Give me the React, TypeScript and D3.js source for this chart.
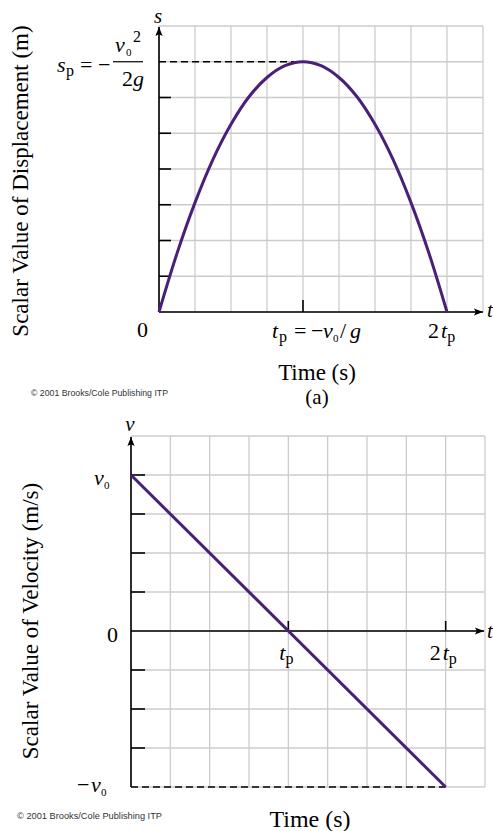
import React from "react";
import * as d3 from "d3";

// grid units: 9 columns x 8 rows (top), 9 x 9 (bottom)
const timeSteps = [0, 0.5, 1, 1.5, 2, 2.5, 3, 3.5, 4, 4.5, 5, 5.5, 6, 6.5, 7, 7.5, 8];
const displacement = [0, 1.64, 3.06, 4.27, 5.25, 6.02, 6.56, 6.89, 7, 6.89, 6.56, 6.02, 5.25, 4.27, 3.06, 1.64, 0];
const velTime = [0, 8];
const velocity = [4, -4];
const sTicks = [1, 2, 3, 4, 5, 6];
const vTicks = [4, 3, 2, 1, -1, -2, -3];

const SERIF = "'Liberation Serif', 'Times New Roman', serif";
const SANS = "'Liberation Sans', Arial, sans-serif";
const PURPLE = "#4a1f78";
const GRID = "#cccccc";

const W = 493;
const H = 831;

const App = () => {
  // top: displacement
  const xS = d3.scaleLinear().domain([0, 9]).range([159, 483]);
  const yS = d3.scaleLinear().domain([0, 8]).range([312, 26]);
  // bottom: velocity
  const xV = d3.scaleLinear().domain([0, 9]).range([131, 485]);
  const yV = d3.scaleLinear().domain([-4, 5]).range([787, 436]);

  const sLine = d3
    .line<number>()
    .x((d, i) => xS(timeSteps[i]))
    .y((d) => yS(d))
    .curve(d3.curveCatmullRom.alpha(0.5));

  const vLine = d3
    .line<number>()
    .x((d, i) => xV(velTime[i]))
    .y((d) => yV(d));

  const grid = (x: d3.ScaleLinear<number, number>, y: d3.ScaleLinear<number, number>, key: string) => {
    const [x0, x1] = x.domain();
    const [y0, y1] = y.domain();
    return (
      <g key={key} stroke={GRID} strokeWidth={1.3}>
        {d3.range(x0, x1 + 1).map((t) => (
          <line key={"v" + t} x1={x(t)} x2={x(t)} y1={y(y0)} y2={y(y1)} />
        ))}
        {d3.range(y0, y1 + 1).map((s) => (
          <line key={"h" + s} x1={x(x0)} x2={x(x1)} y1={y(s)} y2={y(s)} />
        ))}
      </g>
    );
  };

  const tp = xS(4) - 31;

  return (
    <svg
      width={W}
      height={H}
      style={{ position: "absolute", left: 0, top: 0, background: "#fff" }}
      fontFamily={SERIF}
    >
      <defs>
        <marker id="arr" viewBox="0 0 10 10" refX="10" refY="5" markerWidth="9" markerHeight="9" orient="auto" markerUnits="userSpaceOnUse">
          <path d="M0,1 L10,5 L0,9 L2,5 Z" fill="#000" />
        </marker>
      </defs>

      {/* ---------------- (a) displacement ---------------- */}
      {grid(xS, yS, "gs")}
      <line x1={xS(0)} x2={xS(0)} y1={yS(0)} y2={yS(8) + 1} stroke="#000" strokeWidth={1.6} markerEnd="url(#arr)" />
      <line x1={xS(0)} x2={xS(9)} y1={yS(0)} y2={yS(0)} stroke="#000" strokeWidth={1.6} markerEnd="url(#arr)" />
      {sTicks.map((s) => (
        <line key={s} x1={xS(0)} x2={xS(0) + 12} y1={yS(s)} y2={yS(s)} stroke="#000" strokeWidth={1.6} />
      ))}
      <line x1={xS(4)} x2={xS(4)} y1={yS(0)} y2={yS(0) - 12} stroke="#000" strokeWidth={1.6} />
      <line x1={xS(0)} x2={xS(4)} y1={yS(7)} y2={yS(7)} stroke="#000" strokeWidth={1.6} strokeDasharray="7,4" />
      <path d={sLine(displacement) || ""} fill="none" stroke={PURPLE} strokeWidth={3} />

      <text x={158} y={23} fontSize={21} fontStyle="italic" textAnchor="middle">s</text>
      <text x={487} y={317} fontSize={21} fontStyle="italic">t</text>

      {/* s_p = -v0^2 / 2g */}
      <text y={72} fontSize={22}>
        <tspan x={57} fontStyle="italic">s</tspan>
        <tspan x={66} fontSize={16} dy={4}>p</tspan>
        <tspan x={80} dy={-4}>=</tspan>
        <tspan x={98}>−</tspan>
      </text>
      <text y={52} fontSize={22}>
        <tspan x={115} fontStyle="italic">v</tspan>
        <tspan x={126} fontSize={11} dy={4}>0</tspan>
        <tspan x={133} fontSize={16} dy={-14}>2</tspan>
      </text>
      <line x1={113} x2={143} y1={yS(7)} y2={yS(7)} stroke="#000" strokeWidth={1.2} />
      <text x={122} y={86} fontSize={22}>
        2<tspan fontStyle="italic">g</tspan>
      </text>

      <text x={xS(0) - 22} y={337} fontSize={22}>0</text>
      <text y={338} fontSize={22}>
        <tspan x={tp} fontStyle="italic">t</tspan>
        <tspan x={tp + 7} fontSize={16} dy={4}>p</tspan>
        <tspan x={tp + 22} dy={-4}>=</tspan>
        <tspan x={tp + 39}>−</tspan>
        <tspan x={tp + 51} fontStyle="italic">v</tspan>
        <tspan x={tp + 61} fontSize={11} dy={4}>0</tspan>
        <tspan x={tp + 68} dy={-4}>/</tspan>
        <tspan x={tp + 78} fontStyle="italic">g</tspan>
      </text>
      <text x={xS(8) - 19} y={338} fontSize={22}>
        2<tspan fontStyle="italic" dx={2}>t</tspan>
        <tspan fontSize={16} dy={4}>p</tspan>
      </text>

      <text x={317} y={380} fontSize={23} textAnchor="middle">Time (s)</text>
      <text x={317} y={404} fontSize={21} textAnchor="middle">(a)</text>
      <text transform="translate(28,181) rotate(-90)" fontSize={23} textAnchor="middle">
        Scalar Value of Displacement (m)
      </text>
      <text x={31} y={396} fontSize={9.5} fontFamily={SANS} fill="#333" textLength={137} lengthAdjust="spacingAndGlyphs">
        © 2001 Brooks/Cole Publishing ITP
      </text>

      {/* ---------------- (b) velocity ---------------- */}
      {grid(xV, yV, "gv")}
      <line x1={xV(0)} x2={xV(0)} y1={yV(-4)} y2={yV(5) + 1} stroke="#000" strokeWidth={1.6} markerEnd="url(#arr)" />
      <line x1={xV(0)} x2={xV(9) - 1} y1={yV(0)} y2={yV(0)} stroke="#000" strokeWidth={1.6} markerEnd="url(#arr)" />
      {vTicks.map((v) => (
        <line key={v} x1={xV(0)} x2={xV(0) + 14} y1={yV(v)} y2={yV(v)} stroke="#000" strokeWidth={1.6} />
      ))}
      {[4, 8].map((t) => (
        <line key={t} x1={xV(t)} x2={xV(t)} y1={yV(0)} y2={yV(0) - 10} stroke="#000" strokeWidth={1.6} />
      ))}
      <line x1={xV(0)} x2={xV(8)} y1={yV(-4)} y2={yV(-4)} stroke="#000" strokeWidth={1.6} strokeDasharray="7,4" />
      <path d={vLine(velocity) || ""} fill="none" stroke={PURPLE} strokeWidth={3} />

      <text x={130} y={431} fontSize={21} fontStyle="italic" textAnchor="middle">v</text>
      <text x={487} y={638} fontSize={21} fontStyle="italic">t</text>

      <text y={485} fontSize={22}>
        <tspan x={94} fontStyle="italic">v</tspan>
        <tspan x={104} fontSize={11} dy={4}>0</tspan>
      </text>
      <text x={107} y={642} fontSize={22}>0</text>
      <text y={792} fontSize={22}>
        <tspan x={77}>−</tspan>
        <tspan x={91} fontStyle="italic">v</tspan>
        <tspan x={101} fontSize={11} dy={4}>0</tspan>
      </text>
      <text x={xV(4) - 9} y={660} fontSize={22}>
        <tspan fontStyle="italic">t</tspan>
        <tspan fontSize={16} dy={4}>p</tspan>
      </text>
      <text x={xV(8) - 16} y={660} fontSize={22}>
        2<tspan fontStyle="italic" dx={2}>t</tspan>
        <tspan fontSize={16} dy={4}>p</tspan>
      </text>

      <text x={310} y={827} fontSize={24} textAnchor="middle">Time (s)</text>
      <text transform="translate(38,621) rotate(-90)" fontSize={23} textAnchor="middle">
        Scalar Value of Velocity (m/s)
      </text>
      <text x={17} y={819} fontSize={9.5} fontFamily={SANS} fill="#333" textLength={145} lengthAdjust="spacingAndGlyphs">
        © 2001 Brooks/Cole Publishing ITP
      </text>
    </svg>
  );
};

export default App;
